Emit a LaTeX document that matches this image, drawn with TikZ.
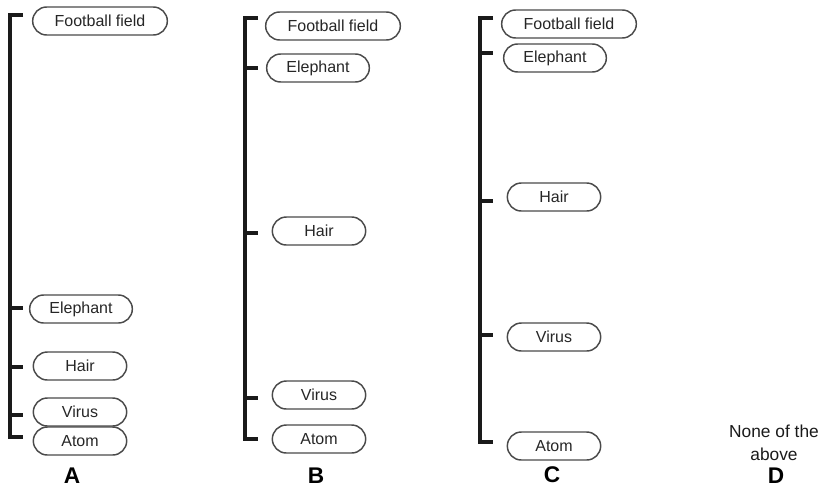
\documentclass[tikz,border=0pt]{standalone}
\usepackage{fontspec}
\setmainfont{Liberation Sans}
\usepackage{xcolor}
\definecolor{cLine}{HTML}{1A1A1A}
\definecolor{cBox}{HTML}{4A4A4A}
\definecolor{cText}{HTML}{262626}
\usetikzlibrary{shapes.misc}
\tikzset{
  node-pill/.style={draw=cBox,line width=1.1pt,rounded rectangle,
    minimum height=21pt,inner sep=0pt,text=cText,
    font=\fontsize{12}{14}\selectfont},
  node-opt/.style={font=\fontsize{17}{20}\selectfont\bfseries,text=black,
    inner sep=0pt,anchor=base},
  node-note/.style={font=\fontsize{13}{17}\selectfont,align=center,text=cLine},
  axis/.style={draw=cLine,line width=2.3pt},
  axis-tick/.style={draw=cLine,line width=2.3pt},
}

\begin{document}
\begin{tikzpicture}[x=0.75pt,y=-0.75pt]
  \useasboundingbox (0,0) rectangle (822,486);

  % A
  \draw[axis] (23,15) -- (10,15) -- (10,437) -- (23,437);
  \foreach \nm/\txt/\ty/\nx/\ny/\w in {ff/Football field/15/100/21/101,
      el/Elephant/308/81/309/77, ha/Hair/367/80/366/70,
      vi/Virus/415/80/412/70, at/Atom/437/80/441/70}{
    \coordinate (A-\nm-t) at (10,\ty);
    \draw[axis-tick] (A-\nm-t) -- ++(13,0);
    \node[node-pill,minimum width=\w pt] (A-\nm) at (\nx,\ny) {\txt};
  }
  \node[node-opt] (optA) at (72,483) {A};

  % B
  \draw[axis] (258,18) -- (245,18) -- (245,439) -- (258,439);
  \foreach \nm/\txt/\ty/\nx/\ny/\w in {ff/Football field/18/333/26/101,
      el/Elephant/68/318/68/77, ha/Hair/233/319/231/70,
      vi/Virus/398/319/395/70, at/Atom/439/319/439/70}{
    \coordinate (B-\nm-t) at (245,\ty);
    \draw[axis-tick] (B-\nm-t) -- ++(13,0);
    \node[node-pill,minimum width=\w pt] (B-\nm) at (\nx,\ny) {\txt};
  }
  \node[node-opt] (optB) at (316,483) {B};

  % C
  \draw[axis] (493,18) -- (480,18) -- (480,442) -- (493,442);
  \foreach \nm/\txt/\ty/\nx/\ny/\w in {ff/Football field/18/569/24/101,
      el/Elephant/53/555/58/77, ha/Hair/201/554/197/70,
      vi/Virus/335/554/337/70, at/Atom/442/554/446/70}{
    \coordinate (C-\nm-t) at (480,\ty);
    \draw[axis-tick] (C-\nm-t) -- ++(13,0);
    \node[node-pill,minimum width=\w pt] (C-\nm) at (\nx,\ny) {\txt};
  }
  \node[node-opt] (optC) at (552,482) {C};

  % D
  \node[node-note] (optD-txt) at (774,443) {None of the\\above};
  \node[node-opt] (optD) at (776,483) {D};
\end{tikzpicture}
\end{document}
